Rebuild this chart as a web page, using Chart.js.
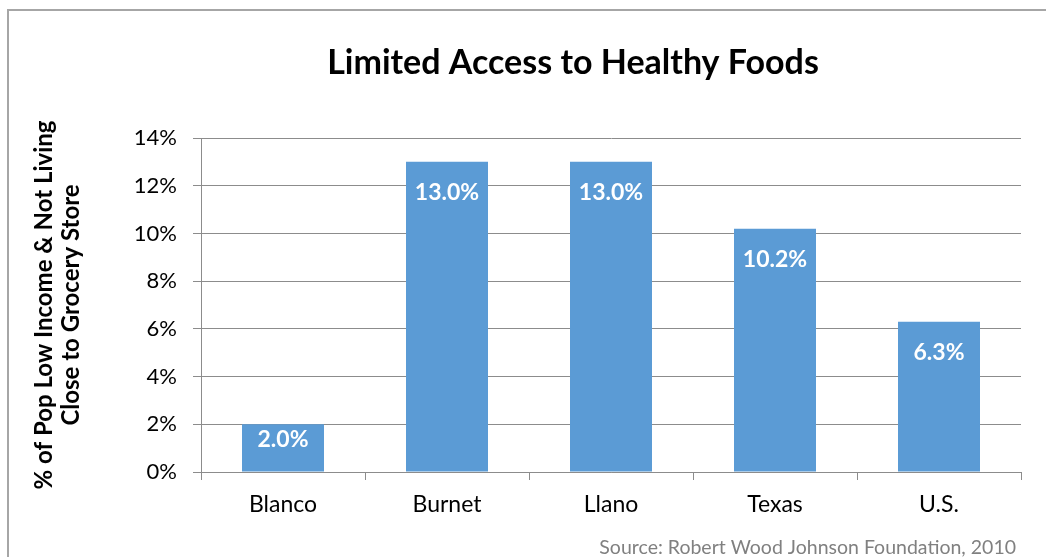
<!DOCTYPE html>
<html>
<head>
<meta charset="utf-8">
<title>Limited Access to Healthy Foods</title>
<script src="https://cdn.jsdelivr.net/npm/chart.js@4/dist/chart.umd.min.js"></script>
<style>
  html, body { margin: 0; padding: 0; background: #fff; }
  #wrap { position: relative; width: 1046px; height: 557px; overflow: hidden; }
  #frame {
    position: absolute; left: 7px; top: 9px; width: 1100px; height: 600px;
    border: 2px solid #a6a6a6; box-sizing: border-box;
  }
  canvas { position: absolute; left: 0; top: 0; }
</style>
</head>
<body>
<div id="wrap">
  <div id="frame"></div>
  <canvas id="foodChart" width="1046" height="557"></canvas>
</div>
<script>
// Share of population that is low income and lives far from a grocery store
const areas = ["Blanco", "Burnet", "Llano", "Texas", "U.S."];
const pctLimitedAccess = [2.0, 13.0, 13.0, 10.2, 6.3];
const yTicks = [0, 2, 4, 6, 8, 10, 12, 14];

const FONT = "Lato, 'Open Sans', sans-serif";
const BAR_BLUE = "#5b9bd5";
const GRID_GREY = "#8c8c8c";

// White value labels just inside the top of each bar
const insideEndLabels = {
  id: "insideEndLabels",
  afterDatasetsDraw(chart) {
    const { ctx } = chart;
    const meta = chart.getDatasetMeta(0);
    ctx.save();
    ctx.fillStyle = "#ffffff";
    ctx.font = "bold 23px " + FONT;
    ctx.textAlign = "center";
    ctx.textBaseline = "middle";
    meta.data.forEach((bar, i) => {
      const h = bar.base - bar.y;
      const offset = Math.min(31, h * 0.32);
      ctx.fillText(pctLimitedAccess[i].toFixed(1) + "%", bar.x, bar.y + offset);
    });
    ctx.restore();
  }
};

// Heading (drawn by hand so it can sit off-centre like the frame) and source note
const chartText = {
  id: "chartText",
  afterDraw(chart) {
    const { ctx } = chart;
    ctx.save();
    ctx.textBaseline = "middle";
    ctx.textAlign = "center";
    ctx.fillStyle = "#000";
    ctx.font = "bold 34px " + FONT;
    ctx.fillText("Limited Access to Healthy Foods", 573, 63);

    ctx.textAlign = "right";
    ctx.fillStyle = "#808080";
    ctx.font = "19.5px " + FONT;
    ctx.fillText("Source: Robert Wood Johnson Foundation, 2010", 1016, 548);
    ctx.restore();
  }
};

new Chart(document.getElementById("foodChart"), {
  type: "bar",
  data: {
    labels: areas,
    datasets: [{
      data: pctLimitedAccess,
      backgroundColor: BAR_BLUE,
      borderWidth: 0,
      barPercentage: 0.5,
      categoryPercentage: 1.0
    }]
  },
  options: {
    responsive: false,
    animation: false,
    events: [],
    layout: { padding: { left: 0, right: 25, top: 138, bottom: 0 } },
    plugins: {
      legend: { display: false },
      tooltip: { enabled: false },
      title: { display: false }
    },
    scales: {
      y: {
        min: 0,
        max: 14,
        afterBuildTicks(scale) {
          scale.ticks = yTicks.map(v => ({ value: v }));
        },
        afterFit(scale) { scale.width = 201; },
        ticks: {
          color: "#000",
          font: { family: FONT, size: 22 },
          padding: 16,
          callback: v => v + "%"
        },
        grid: { color: GRID_GREY, lineWidth: 1, tickLength: 8 },
        border: { display: true, color: GRID_GREY, width: 1 },
        title: {
          display: true,
          text: ["% of Pop Low Income & Not Living", "Close to Grocery Store"],
          color: "#000",
          font: { family: FONT, size: 24, weight: "bold", lineHeight: 1.12 },
          padding: { top: 31, bottom: 0 }
        }
      },
      x: {
        afterFit(scale) { scale.height = 85; },
        ticks: {
          color: "#000",
          font: { family: FONT, size: 23 },
          padding: 11
        },
        grid: {
          offset: true,
          drawOnChartArea: false,
          drawTicks: true,
          tickLength: 8,
          color: GRID_GREY
        },
        border: { display: true, color: GRID_GREY, width: 1 }
      }
    }
  },
  plugins: [insideEndLabels, chartText]
});
</script>
</body>
</html>
